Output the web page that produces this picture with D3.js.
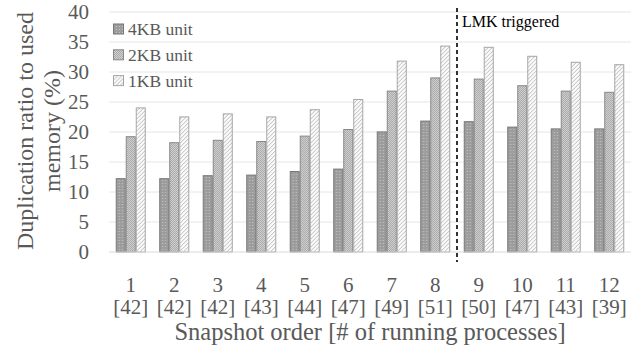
<!DOCTYPE html>
<html>
<head>
<meta charset="utf-8">
<script src="https://cdn.jsdelivr.net/npm/d3@7"></script>
<style>
  body { margin: 0; background: #fff; }
  text { font-family: "Liberation Serif", "DejaVu Serif", serif; }
</style>
</head>
<body>
<div id="chart"></div>
<script>
// data
const snapshots = ["1", "2", "3", "4", "5", "6", "7", "8", "9", "10", "11", "12"];
const processes = ["[42]", "[42]", "[42]", "[43]", "[44]", "[47]", "[49]", "[51]", "[50]", "[47]", "[43]", "[39]"];
const unit4KB = [12.3, 12.3, 12.8, 12.9, 13.5, 13.9, 20.1, 21.9, 21.8, 20.9, 20.6, 20.6];
const unit2KB = [19.3, 18.3, 18.7, 18.5, 19.4, 20.5, 26.9, 29.1, 28.9, 27.8, 26.9, 26.7];
const unit1KB = [24.1, 22.6, 23.1, 22.6, 23.8, 25.5, 31.9, 34.4, 34.2, 32.7, 31.7, 31.3];
const seriesNames = ["4KB unit", "2KB unit", "1KB unit"];
const yTicks = [0, 5, 10, 15, 20, 25, 30, 35, 40];
const lmkAfter = 8;

const width = 644, height = 354;
const margin = {top: 12, right: 13, bottom: 102, left: 109};
const innerW = width - margin.left - margin.right;
const innerH = height - margin.top - margin.bottom;

const svg = d3.select("#chart").append("svg")
    .attr("width", width)
    .attr("height", height);

// fill patterns
const defs = svg.append("defs");

let p4 = defs.append("pattern").attr("id", "p4")
    .attr("patternUnits", "userSpaceOnUse").attr("width", 3).attr("height", 3);
p4.append("rect").attr("width", 3).attr("height", 3).attr("fill", "#9c9c9c");
p4.append("rect").attr("width", 1).attr("height", 1).attr("fill", "#c4c4c4");

let p2 = defs.append("pattern").attr("id", "p2")
    .attr("patternUnits", "userSpaceOnUse").attr("width", 2).attr("height", 2);
p2.append("rect").attr("width", 2).attr("height", 2).attr("fill", "#e0e0e0");
p2.append("rect").attr("width", 1).attr("height", 1).attr("fill", "#9a9a9a");
p2.append("rect").attr("x", 1).attr("y", 1).attr("width", 1).attr("height", 1).attr("fill", "#9a9a9a");

let p1 = defs.append("pattern").attr("id", "p1")
    .attr("patternUnits", "userSpaceOnUse").attr("width", 4).attr("height", 4);
p1.append("rect").attr("width", 4).attr("height", 4).attr("fill", "#fafafa");
p1.append("path").attr("d", "M-1,5 L5,-1 M-1,1 L1,-1 M3,5 L5,3")
    .attr("stroke", "#b5b5b5").attr("stroke-width", 0.9);

const fills = ["url(#p4)", "url(#p2)", "url(#p1)"];
const strokes = ["#777777", "#888888", "#a6a6a6"];

const g = svg.append("g")
    .attr("transform", `translate(${margin.left},${margin.top})`);

const x = d3.scaleBand()
    .domain(snapshots)
    .range([0, innerW])
    .paddingInner(0.31)
    .paddingOuter(0.155);

const x1 = d3.scaleBand()
    .domain(seriesNames)
    .range([0, x.bandwidth()]);

const y = d3.scaleLinear()
    .domain([0, 40])
    .range([innerH, 0]);

// gridlines
g.selectAll(".grid")
    .data(yTicks.filter(d => d > 0))
    .enter().append("line")
    .attr("class", "grid")
    .attr("x1", 0).attr("x2", innerW)
    .attr("y1", d => y(d)).attr("y2", d => y(d))
    .attr("stroke", "#e6e6e6").attr("stroke-width", 1);

// y tick labels
g.selectAll(".ytick")
    .data(yTicks)
    .enter().append("text")
    .attr("class", "ytick")
    .attr("x", -20)
    .attr("y", d => y(d))
    .attr("dy", "0.35em")
    .attr("text-anchor", "end")
    .style("font-size", "21px")
    .style("fill", "#595959")
    .text(d => d);

// bars
const rows = snapshots.map((s, i) => ({s: s, v: [unit4KB[i], unit2KB[i], unit1KB[i]]}));

const groups = g.selectAll(".grp")
    .data(rows)
    .enter().append("g")
    .attr("class", "grp")
    .attr("transform", d => `translate(${x(d.s)},0)`);

groups.selectAll("rect")
    .data(d => d.v.map((v, k) => ({k: k, v: v})))
    .enter().append("rect")
    .attr("x", d => x1(seriesNames[d.k]) + 0.5)
    .attr("y", d => y(d.v) + 0.5)
    .attr("width", x1.bandwidth() - 1)
    .attr("height", d => innerH - y(d.v) - 0.5)
    .attr("fill", d => fills[d.k])
    .attr("stroke", d => strokes[d.k])
    .attr("stroke-width", 1);

// x axis line
g.append("line")
    .attr("x1", 0).attr("x2", innerW)
    .attr("y1", innerH).attr("y2", innerH)
    .attr("stroke", "#d9d9d9").attr("stroke-width", 1.2);

// x tick labels, two lines
g.selectAll(".xtick")
    .data(snapshots)
    .enter().append("text")
    .attr("class", "xtick")
    .attr("x", d => x(d) + x.bandwidth() / 2)
    .attr("y", innerH + 40)
    .attr("text-anchor", "middle")
    .style("font-size", "21px")
    .style("fill", "#595959")
    .text(d => d);

g.selectAll(".xproc")
    .data(processes)
    .enter().append("text")
    .attr("class", "xproc")
    .attr("x", (d, i) => x(snapshots[i]) + x.bandwidth() / 2)
    .attr("y", innerH + 62)
    .attr("text-anchor", "middle")
    .style("font-size", "21px")
    .style("fill", "#595959")
    .text(d => d);

// LMK line
const lx = x(snapshots[lmkAfter]) - x.step() * x.paddingInner() / 2;
g.append("line")
    .attr("x1", lx).attr("x2", lx)
    .attr("y1", -4).attr("y2", innerH + 10)
    .attr("stroke", "#000").attr("stroke-width", 1.6)
    .attr("stroke-dasharray", "4,3");

g.append("text")
    .attr("x", lx + 5)
    .attr("y", 14.5)
    .style("font-size", "16px")
    .style("fill", "#000")
    .text("LMK triggered");

// legend
const legend = g.selectAll(".legend")
    .data(seriesNames)
    .enter().append("g")
    .attr("class", "legend")
    .attr("transform", (d, i) => `translate(4,${17 + i * 25.8})`);

legend.append("rect")
    .attr("x", 0.5).attr("y", -5)
    .attr("width", 10).attr("height", 10)
    .attr("fill", (d, i) => fills[i])
    .attr("stroke", (d, i) => strokes[i]);

legend.append("text")
    .attr("x", 15)
    .attr("y", 0)
    .attr("dy", "0.35em")
    .style("font-size", "17.5px")
    .style("fill", "#595959")
    .text(d => d);

// axis titles
svg.append("text")
    .attr("transform", "translate(33,131) rotate(-90)")
    .attr("text-anchor", "middle")
    .style("font-size", "24px")
    .style("fill", "#595959")
    .text("Duplication ratio to used");

svg.append("text")
    .attr("transform", "translate(60,131) rotate(-90)")
    .attr("text-anchor", "middle")
    .style("font-size", "24px")
    .style("fill", "#595959")
    .text("memory (%)");

svg.append("text")
    .attr("x", margin.left + innerW / 2)
    .attr("y", 340)
    .attr("text-anchor", "middle")
    .style("font-size", "24.5px")
    .style("fill", "#595959")
    .text("Snapshot order [# of running processes]");
</script>
</body>
</html>
